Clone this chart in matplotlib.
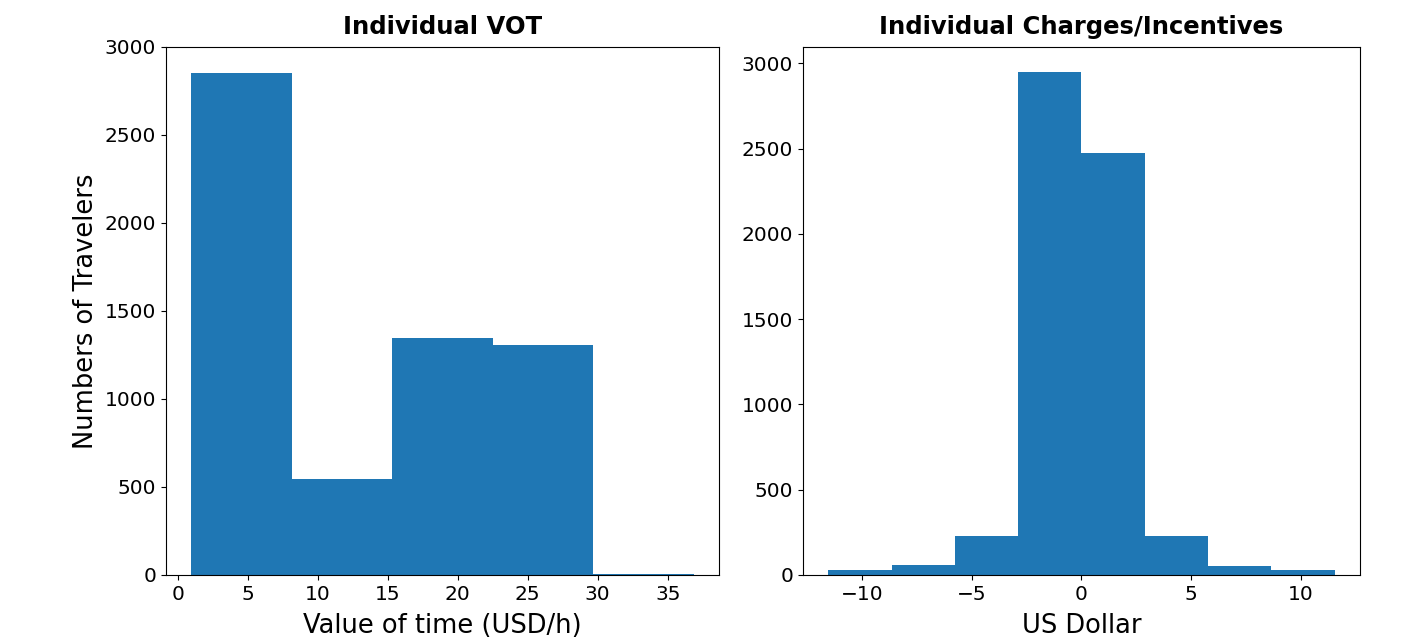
import matplotlib
matplotlib.use("Agg")
import matplotlib.pyplot as plt
import numpy as np

# Histogram bin edges and counts for each panel
vot_edges = [0.96, 8.14, 15.32, 22.50, 29.68, 36.86]
vot_counts = [2855, 548, 1347, 1307, 4]

charge_edges = [-11.56, -8.67, -5.78, -2.89, 0.0, 2.89, 5.78, 8.67, 11.56]
charge_counts = [27, 58, 227, 2948, 2474, 229, 52, 27]

fig = plt.figure(figsize=(14.05, 6.41), dpi=100)
ax1 = fig.add_axes([0.1181, 0.1030, 0.3936, 0.8237])
ax2 = fig.add_axes([0.5715, 0.1030, 0.3965, 0.8237])

color = "#1f77b4"

ax1.hist(vot_edges[:-1], bins=vot_edges, weights=vot_counts, color=color)
ax1.set_title("Individual VOT", fontsize=17.5, fontweight="bold", pad=9)
ax1.set_xlabel("Value of time (USD/h)", fontsize=18.5, labelpad=7)
ax1.set_ylabel("Numbers of Travelers", fontsize=18.5)
ax1.set_yticks([0, 500, 1000, 1500, 2000, 2500, 3000])
ax1.set_xticks([0, 5, 10, 15, 20, 25, 30, 35])

ax2.hist(np.array(charge_edges[:-1]) + 0.01, bins=charge_edges, weights=charge_counts, color=color)
ax2.set_title("Individual Charges/Incentives", fontsize=17.5, fontweight="bold", pad=9)
ax2.set_xlabel("US Dollar", fontsize=18.5, labelpad=7)
ax2.set_xticks([-10, -5, 0, 5, 10])

for ax in (ax1, ax2):
    ax.tick_params(labelsize=14.5)

fig.savefig("out.png", dpi=100)
